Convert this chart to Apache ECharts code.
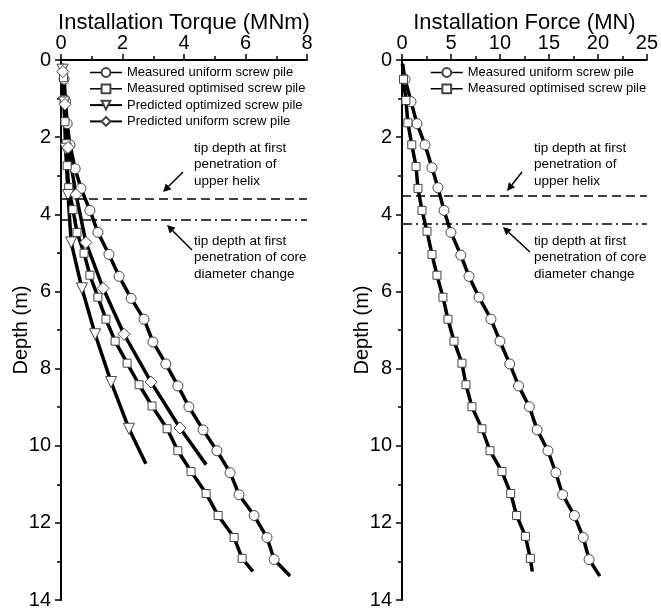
<!DOCTYPE html>
<html>
<head>
<meta charset="utf-8">
<script src="https://cdn.jsdelivr.net/npm/echarts@6/dist/echarts.min.js"></script>
<style>
html, body { margin: 0; padding: 0; background: #fff; }
#chart { width: 661px; height: 611px; }
</style>
</head>
<body>
<div id="chart"></div>
<script>
// left panel: [torque MNm, depth m]
var torqueMeasUniform = [[0.03,0.1],[0.1,0.5],[0.15,1.08],[0.2,1.65],[0.29,2.2],[0.46,2.82],[0.65,3.33],[0.94,3.9],[1.2,4.47],[1.56,5.04],[1.89,5.61],[2.28,6.18],[2.7,6.72],[2.99,7.31],[3.41,7.88],[3.8,8.45],[4.16,8.99],[4.62,9.59],[5.07,10.13],[5.5,10.7],[5.79,11.27],[6.28,11.81],[6.7,12.38],[6.93,12.95],[7.45,13.38]];
var torqueMeasOptimised = [[0.03,0.1],[0.08,0.46],[0.1,1.03],[0.13,1.6],[0.17,2.17],[0.2,2.74],[0.25,3.31],[0.39,3.88],[0.52,4.47],[0.75,5.01],[0.94,5.58],[1.2,6.15],[1.46,6.72],[1.76,7.29],[2.15,7.86],[2.54,8.42],[2.96,8.97],[3.45,9.56],[3.8,10.13],[4.23,10.67],[4.72,11.24],[5.11,11.81],[5.63,12.38],[5.89,12.92],[6.24,13.26]];
var torquePredOptimized = [[0.05,0.25],[0.1,1.1],[0.15,2.3],[0.23,3.5],[0.33,4.73],[0.68,5.92],[1.11,7.11],[1.63,8.35],[2.21,9.56],[2.76,10.47]];
var torquePredUniform = [[0.06,0.3],[0.13,1.15],[0.23,2.27],[0.49,3.49],[0.81,4.73],[1.37,5.92],[2.05,7.11],[2.93,8.35],[3.87,9.54],[4.72,10.49]];

// right panel: [force MN, depth m]
var forceMeasUniform = [[0.05,0.1],[0.31,0.5],[0.92,1.08],[1.53,1.65],[2.35,2.2],[3.06,2.79],[3.67,3.31],[4.29,3.9],[5.0,4.47],[6.0,5.06],[6.84,5.61],[7.86,6.15],[9.08,6.72],[10.0,7.29],[11.0,7.88],[11.9,8.45],[13.0,8.99],[13.8,9.59],[14.9,10.13],[15.7,10.7],[16.4,11.27],[17.6,11.81],[18.5,12.38],[19.1,12.95],[20.2,13.38]];
var forceMeasOptimised = [[0.05,0.1],[0.15,0.5],[0.4,1.05],[0.6,1.63],[1.0,2.2],[1.43,2.76],[1.63,3.33],[2.04,3.9],[2.55,4.44],[3.06,5.04],[3.57,5.58],[4.18,6.15],[4.69,6.72],[5.31,7.29],[6.12,7.86],[6.53,8.42],[7.14,8.99],[8.16,9.56],[8.98,10.13],[10.2,10.67],[11.1,11.24],[11.7,11.81],[12.6,12.35],[13.1,12.92],[13.3,13.26]];

// guide depths: [upper helix, core diameter change]
var torqueGuideDepths = [3.59, 4.13];
var forceGuideDepths = [3.51, 4.24];

var names = ['Measured uniform screw pile', 'Measured optimised screw pile', 'Predicted optimized screw pile', 'Predicted uniform screw pile'];
var note1 = 'tip depth at first\npenetration of\nupper helix';
var note2 = 'tip depth at first\npenetration of core\ndiameter change';

var FONT = 'Liberation Sans, Arial, sans-serif';
var myChart = echarts.init(document.getElementById('chart'));

// endpoints of the traces carry no marker
function toData(arr, hideFirst) {
    return arr.map(function (p, i) {
        if ((hideFirst && i === 0) || i === arr.length - 1) {
            return { value: p, symbol: 'none' };
        }
        return p;
    });
}

function lineSeries(name, arr, idx, shape, size, hideFirst, extra) {
    var s = {
        name: name,
        type: 'line',
        xAxisIndex: idx,
        yAxisIndex: idx,
        data: toData(arr, hideFirst),
        symbol: shape,
        symbolSize: size,
        showAllSymbol: true,
        animation: false,
        lineStyle: { color: '#000', width: 3.5 },
        itemStyle: { color: '#fff', borderColor: '#444', borderWidth: 1 },
        emphasis: { disabled: true }
    };
    for (var k in extra) s[k] = extra[k];
    return s;
}

function guides(depths) {
    return {
        silent: true,
        symbol: 'none',
        label: { show: false },
        animation: false,
        data: [
            { yAxis: depths[0], lineStyle: { color: '#000', width: 1.5, type: [9, 5] } },
            { yAxis: depths[1], lineStyle: { color: '#000', width: 1.5, type: [10, 4, 2, 4] } }
        ]
    };
}

function xAxisFor(idx, name, max, interval) {
    return {
        gridIndex: idx, type: 'value', position: 'top', min: 0, max: max, interval: interval,
        name: name, nameLocation: 'middle', nameGap: 26, nameMoveOverlap: false,
        nameTextStyle: { fontFamily: FONT, fontSize: 22, color: '#000' },
        axisLine: { show: true, lineStyle: { color: '#000', width: 2 } },
        axisTick: { show: true, inside: false, length: 6, lineStyle: { color: '#000', width: 1.5 } },
        minorTick: { show: true, splitNumber: 2, length: 4, lineStyle: { color: '#000', width: 1.5 } },
        splitLine: { show: false },
        axisLabel: { fontFamily: FONT, fontSize: 20, color: '#000', margin: 7 }
    };
}

function yAxisFor(idx) {
    return {
        gridIndex: idx, type: 'value', inverse: true, min: 0, max: 14, interval: 2,
        name: 'Depth (m)', nameLocation: 'middle', nameGap: 30, nameMoveOverlap: false,
        nameTextStyle: { fontFamily: FONT, fontSize: 20, color: '#000' },
        axisLine: { show: true, lineStyle: { color: '#000', width: 2 } },
        axisTick: { show: true, inside: false, length: 6, lineStyle: { color: '#000', width: 1.5 } },
        minorTick: { show: true, splitNumber: 2, length: 4, lineStyle: { color: '#000', width: 1.5 } },
        splitLine: { show: false },
        axisLabel: { fontFamily: FONT, fontSize: 20, color: '#000', margin: 10 }
    };
}

function arrow(x1, y1, x2, y2) {
    var a = Math.atan2(y2 - y1, x2 - x1), L = 8, W = 4;
    var bx = x2 - L * Math.cos(a), by = y2 - L * Math.sin(a);
    return [
        { type: 'line', silent: true, shape: { x1: x1, y1: y1, x2: bx, y2: by }, style: { stroke: '#000', lineWidth: 1.5 } },
        { type: 'polygon', silent: true, shape: { points: [[x2, y2], [bx + W * Math.sin(a), by - W * Math.cos(a)], [bx - W * Math.sin(a), by + W * Math.cos(a)]] }, style: { fill: '#000' } }
    ];
}

function note(x, y, txt) {
    return { type: 'text', silent: true, left: x, top: y, style: { text: txt, fontFamily: FONT, fontSize: 13.5, lineHeight: 16.5, fill: '#000' } };
}

var legendText = { fontFamily: FONT, fontSize: 13, color: '#000' };

var option = {
    backgroundColor: '#fff',
    animation: false,
    grid: [
        { left: 61, top: 60, width: 246, height: 540 },
        { left: 402, top: 60, width: 245, height: 540 }
    ],
    xAxis: [
        xAxisFor(0, 'Installation Torque (MNm)', 8, 2),
        xAxisFor(1, 'Installation Force (MN)', 25, 5)
    ],
    yAxis: [yAxisFor(0), yAxisFor(1)],
    legend: [
        {
            left: 84, top: 61, orient: 'vertical', itemWidth: 32, itemHeight: 11, itemGap: 3.3,
            textStyle: legendText, selectedMode: false,
            data: [
                { name: names[0], lineStyle: { width: 1.5 } },
                { name: names[1], lineStyle: { width: 1.5 } },
                { name: names[2] },
                { name: names[3] }
            ]
        },
        {
            left: 425, top: 61, orient: 'vertical', itemWidth: 32, itemHeight: 11, itemGap: 3.3,
            textStyle: legendText, selectedMode: false,
            data: [
                { name: names[0], lineStyle: { width: 1.5 } },
                { name: names[1], lineStyle: { width: 1.5 } }
            ]
        }
    ],
    series: [
        lineSeries(names[0], torqueMeasUniform, 0, 'circle', 10, true, { markLine: guides(torqueGuideDepths) }),
        lineSeries(names[1], torqueMeasOptimised, 0, 'rect', 8, true, {}),
        lineSeries(names[2], torquePredOptimized, 0, 'triangle', 11, false, { symbolRotate: 180 }),
        lineSeries(names[3], torquePredUniform, 0, 'diamond', 12, false, {}),
        lineSeries(names[0], forceMeasUniform, 1, 'circle', 10, true, { markLine: guides(forceGuideDepths) }),
        lineSeries(names[1], forceMeasOptimised, 1, 'rect', 8, true, {})
    ],
    graphic: [
        note(194, 140, note1),
        note(194, 233, note2),
        note(534, 140, note1),
        note(534, 233, note2)
    ].concat(arrow(183, 172, 163, 192), arrow(192, 250, 167, 225),
             arrow(522, 172, 507, 191), arrow(530, 252, 503, 227))
};

myChart.setOption(option);
</script>
</body>
</html>
